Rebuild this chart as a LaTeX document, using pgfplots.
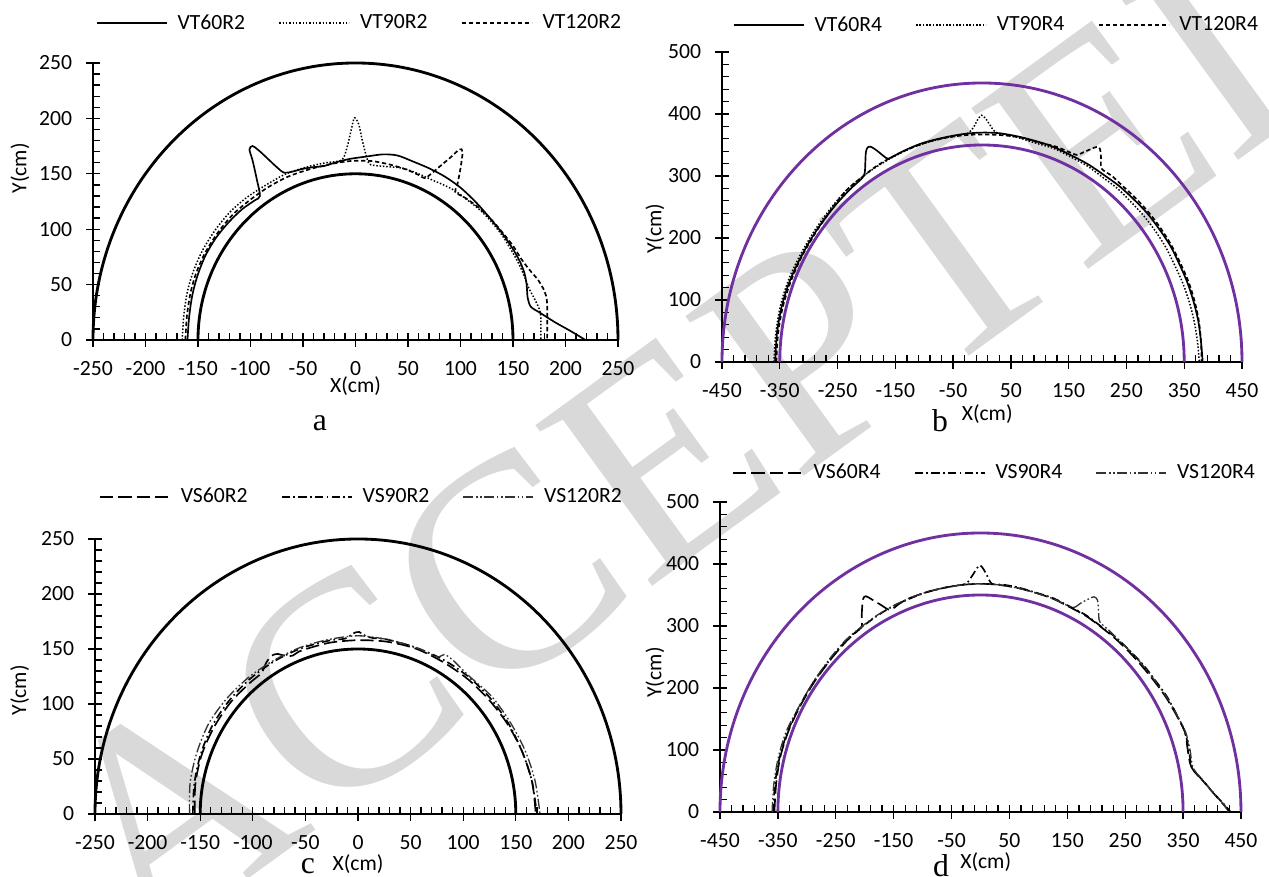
\documentclass[border=0pt]{standalone}
\usepackage{pgfplots}
\pgfplotsset{compat=1.18}
\usepackage{fontspec}
\setmainfont{Carlito}
\newfontfamily\tnr{Liberation Serif}
\definecolor{wm}{RGB}{217,217,217}
\definecolor{vio}{RGB}{112,48,160}
\newcommand{\tf}{\fontsize{13}{15}\selectfont}
\pgfplotsset{
  base/.style={
    scale only axis, clip=false, disabledatascaling,
    anchor=south west,
    axis lines=left, axis line style={line width=1pt,-},
    tick align=inside, major tick length=8pt, minor tick length=4pt,
    tick style={line width=0.8pt, black},
    major x tick style={yshift=-4pt},
    major y tick style={xshift=-4pt},
    minor tick num=4,
    tick label style={font=\tf},
    xticklabel style={anchor=center, yshift=-17pt},
    yticklabel style={anchor=east, xshift=-9pt},
    xlabel={X(cm)}, ylabel={Y(cm)},
    label style={font=\tf},
    xlabel style={anchor=center},
    ylabel style={anchor=center},
    legend style={draw=none, fill=none, legend columns=3, font=\tf, anchor=center,
      /tikz/every odd column/.append style={column sep=4pt},
      /tikz/every even column/.append style={column sep=18pt}},
    legend image code/.code={\draw[#1] (0pt,0pt) -- (42pt,0pt);},
    legend cell align=left,
  },
  s60/.style={black, line width=1pt, smooth, tension=0.5},
  s90/.style={black, line width=0.9pt, dash pattern=on 0.9pt off 1.1pt, smooth, tension=0.5},
  s120/.style={black, line width=1pt, dash pattern=on 2.6pt off 1.6pt, smooth, tension=0.5},
  v60/.style={black, line width=1pt, dash pattern=on 8pt off 3pt, smooth, tension=0.5},
  v90/.style={black, line width=1pt, dash pattern=on 5pt off 2pt on 1pt off 2pt, smooth, tension=0.5},
  v120/.style={black!80, line width=0.8pt, dash pattern=on 6pt off 1.5pt on 1pt off 1.5pt on 1pt off 1.5pt, smooth, tension=0.5},
}
\begin{document}
\begin{tikzpicture}
\path[use as bounding box] (0,0) rectangle (761.4pt,526.2pt);
\node[rotate=36, text=wm, font=\tnr\fontsize{182}{182}\selectfont] at (430pt,276pt) {ACCEPTED};

% ---------------- panel a ----------------
\begin{axis}[base, at={(55.8pt,322.2pt)}, width=315pt, height=166.2pt,
  xmin=-250, xmax=250, ymin=0, ymax=250,
  xtick={-250,-200,...,250}, xticklabels={-250,-200,-150,-100,-50,0,50,100,150,200,250},
  ytick={0,50,...,250}, yticklabels={0,50,100,150,200,250},
  xlabel style={at={(axis description cs:0.5,0)}, yshift=-27.6pt},
  ylabel style={at={(axis description cs:-0.139,0.62)}},
  legend style={at={(0.509,1.144)}}]
\draw[black, line width=1.7pt] (axis cs:250,0) arc[start angle=0, end angle=180, radius=250];
\draw[black, line width=1.7pt] (axis cs:150,0) arc[start angle=0, end angle=180, radius=150];
\addplot[s60] coordinates {(-160,0) (-158.5,20) (-155.5,40) (-150.5,58) (-143,76) (-133,92) (-121,106) (-108,118) (-96,126) (-91,130) (-94,145) (-98,162) (-101,172) (-98,175) (-92,171) (-84,164) (-75,156) (-68,151) (-60,152) (-50,154.5) (-40,156) (-30,157) (-18,160.5) (-5,163.5) (10,165.5) (26,167.5) (40,166.5) (55,161) (70,155) (85,147.5) (100,137.5) (115,124) (128,110) (140,96) (150,82) (157,70) (161,60) (163,50) (164,38) (167,30) (175,25) (190,16) (205,8) (219,0)};
\addlegendentry{VT60R2}
\addplot[s90] coordinates {(-165,0) (-163.5,22) (-160,44) (-154,63) (-145,82) (-133,100) (-119,116) (-103,129) (-85,140) (-66,150) (-45,156.5) (-28,160) (-13,162.5) (-8,174) (-4,190) (-1,200.5) (3,195) (6,182) (10,167) (13,159) (18,157.5) (30,156.5) (45,155) (60,150) (74,144) (85,139.5) (95,134.5) (107,126) (119,117) (130,106) (140,94) (149,80) (156,68) (161,57) (165,47) (170,38) (175,28) (176.5,20) (176.5,0)};
\addlegendentry{VT90R2}
\addplot[s120] coordinates {(-162,0) (-160.5,22) (-157,43) (-151.5,61) (-143,79) (-131,97) (-117,113) (-101,126) (-83,138) (-64,147.5) (-44,154) (-25,158.5) (-5,161.5) (15,161.5) (32,158.5) (48,154) (60,149) (66,146) (72,150) (82,158) (92,166) (99,172) (102,170) (100,155) (97,140) (95,133.5) (105,128) (118,119) (130,108) (140,97) (150,85) (158,73) (166,63) (174,54) (180,44) (182.5,33) (182.5,0)};
\addlegendentry{VT120R2}
\end{axis}

% ---------------- panel b ----------------
\begin{axis}[base, at={(433.2pt,309pt)}, width=312pt, height=186pt,
  xmin=-450, xmax=450, ymin=0, ymax=500,
  xtick={-450,-350,...,450}, xticklabels={-450,-350,-250,-150,-50,50,150,250,350,450},
  ytick={0,100,...,500}, yticklabels={0,100,200,300,400,500},
  xlabel style={at={(axis description cs:0.51,0)}, yshift=-31pt},
  ylabel style={at={(axis description cs:-0.129,0.43)}},
  legend style={at={(0.529,1.087)}}]
\draw[vio, line width=1.7pt] (axis cs:450,0) arc[start angle=0, end angle=180, radius=450];
\draw[vio, line width=1.7pt] (axis cs:350,0) arc[start angle=0, end angle=180, radius=350];
\addplot[s60] coordinates {(-358,0) (-355,45) (-347,88) (-333,130) (-313,170) (-288,210) (-258,248) (-230,277) (-208,296) (-203,305) (-202,320) (-201,338) (-198,346) (-192,347) (-182,341) (-170,332) (-162,328) (-145,336) (-125,345) (-100,354) (-64,362.4) (-30,368) (0,370) (30,369) (64,363.4) (100,354.5) (126,346) (155,333) (184,318.7) (212,301) (238,283.4) (263,262) (286,239.8) (307,214) (325.6,188) (341,159) (355,129.3) (366,98) (374.3,66.1) (379,33) (382,0)};
\addlegendentry{VT60R4}
\addplot[s90] coordinates {(-360,0) (-357,45) (-349,90) (-335,132) (-315,172) (-289,213) (-260,250) (-233.4,278.1) (-205,300) (-182,315.2) (-155,330) (-125.2,344) (-95,354) (-63.9,361.5) (-40,366) (-24,369) (-15,378) (-8,390) (-1,398) (6,393) (14,382) (22.5,371.5) (40,366.5) (63.9,361.5) (95,352.5) (125.2,344) (155,330) (182.5,316) (210,297) (234.7,279.6) (258,258) (280.4,235.3) (301,210) (318.7,184) (334,155) (347.8,126.5) (359,96) (367.4,64.9) (373,32) (376,0)};
\addlegendentry{VT90R4}
\addplot[s120] coordinates {(-356,0) (-353,45) (-345,88) (-331,130) (-312,170) (-287,210) (-258,250) (-233.4,278.1) (-208,298) (-182.5,316.1) (-155,331) (-125.2,344) (-95,354.5) (-63.9,361.4) (-30,365.8) (0,367) (32,366) (64,362.5) (96,354.5) (126.5,347.8) (150,339) (163.8,334) (175,338) (190,344) (199,347) (204,344) (206,330) (207,312) (225,300) (240.5,286.5) (265,265) (288,241.8) (309,216) (327.3,189) (343,160) (357.2,130) (368,98) (375.3,66.3) (379,33) (380,0)};
\addlegendentry{VT120R4}
\end{axis}

% ---------------- panel c ----------------
\begin{axis}[base, at={(57pt,37.8pt)}, width=315.6pt, height=165pt,
  xmin=-250, xmax=250, ymin=0, ymax=250,
  xtick={-250,-200,...,250}, xticklabels={-250,-200,-150,-100,-50,0,50,100,150,200,250},
  ytick={0,50,...,250}, yticklabels={0,50,100,150,200,250},
  xlabel style={at={(axis description cs:0.5,0)}, yshift=-30pt},
  ylabel style={at={(axis description cs:-0.143,0.45)}},
  legend style={at={(0.508,1.153)}}]
\draw[black, line width=1.7pt] (axis cs:250,0) arc[start angle=0, end angle=180, radius=250];
\draw[black, line width=1.7pt] (axis cs:150,0) arc[start angle=0, end angle=180, radius=150];
\addplot[v60] coordinates {(-155,0) (-154.6,27.3) (-148.5,54) (-136.8,79) (-121,101.6) (-103,119) (-92,128) (-87,138) (-82,144) (-76,145.5) (-69,143.5) (-62,144) (-54,148.5) (-27.5,155.6) (0,158) (27.7,156.6) (54.7,150.4) (80,138.6) (103.5,123.3) (124.1,104.2) (142,82) (156,56.8) (165.5,29.2) (169,0)};
\addlegendentry{VS60R2}
\addplot[v90] coordinates {(-157,0) (-155.6,27.5) (-149.5,54.4) (-138.6,80) (-122.6,102.9) (-102.9,122.6) (-80,138.6) (-54.7,150.4) (-27.8,157.6) (-12,159.5) (-5,164) (1,165.5) (7,162) (14,160) (28,158.6) (55,151.3) (81,140.3) (104.8,124.9) (125.6,105.4) (142.9,82.5) (156,56.8) (165.5,29.2) (170,0)};
\addlegendentry{VS90R2}
\addplot[v120] coordinates {(-160,0) (-159.6,28.2) (-153.2,55.7) (-142,82) (-124.9,104.8) (-104.1,124.1) (-80.5,139.4) (-55.1,151.3) (-28,158.6) (0,162) (28,158.6) (55,151.3) (75,143) (82,145) (90,140) (105.4,125.6) (127.2,106.7) (144.6,83.5) (158.8,57.8) (168.4,29.7) (173,0)};
\addlegendentry{VS120R2}
\end{axis}

% ---------------- panel d ----------------
\begin{axis}[base, at={(432pt,39pt)}, width=312.6pt, height=186pt,
  xmin=-450, xmax=450, ymin=0, ymax=500,
  xtick={-450,-350,...,450}, xticklabels={-450,-350,-250,-150,-50,50,150,250,350,450},
  ytick={0,100,...,500}, yticklabels={0,100,200,300,400,500},
  xlabel style={at={(axis description cs:0.51,0)}, yshift=-30pt},
  ylabel style={at={(axis description cs:-0.125,0.45)}},
  legend style={at={(0.528,1.094)}}]
\draw[vio, line width=1.7pt] (axis cs:450,0) arc[start angle=0, end angle=180, radius=450];
\draw[vio, line width=1.7pt] (axis cs:350,0) arc[start angle=0, end angle=180, radius=350];
\addplot[v60] coordinates {(-356,0) (-353,45) (-346,88) (-332,130) (-312,170) (-287,210) (-258,247) (-231.4,275.8) (-210,294) (-205,300) (-205,320) (-203,343) (-198,348) (-188,343) (-172,334) (-156,326) (-140,336) (-125,344) (-95,354) (-63.7,361.4) (-30,366.5) (0,368) (30,366.5) (63.7,361.4) (95,353.5) (125.2,344) (155,330) (182.5,316.1) (210,297) (234,278.8) (258,257) (279.6,234.6) (301,210) (320.4,185) (338,157) (353.3,128.6) (358,100) (364,73) (380,55) (400,33) (420,12) (430,0)};
\addlegendentry{VS60R4}
\addplot[v90] coordinates {(-358,0) (-355,45) (-347,88) (-333,130) (-313,170) (-288,210) (-258,248) (-232,276.5) (-208,296) (-181.5,314.4) (-155,330) (-124.8,343) (-95,354) (-63.7,361.4) (-40,365.5) (-25,368) (-15,380) (-7,392) (-1,398) (5,392) (12,380) (20,368) (40,366.5) (64,362.4) (95,354) (125.5,344.9) (155,331) (183,317) (210,298) (235.3,280.4) (260,258) (281.9,236.5) (303,211) (322.2,186) (339,157) (353.3,128.6) (360,100) (366,70) (385,50) (405,28) (425,8) (432,0)};
\addlegendentry{VS90R4}
\addplot[v120] coordinates {(-360,0) (-357,45) (-349,89) (-335,131) (-313,171) (-288,211) (-259,249) (-232.7,277.3) (-208,297) (-182,315.2) (-155,330.5) (-125.2,344) (-95,354) (-63.7,361.4) (-30,366.5) (0,368) (30,366.5) (63.7,361.4) (95,353.5) (125.2,344) (150,333) (162,330) (175,338) (188,344) (196,347) (202,342) (204,325) (206,307) (222,293) (235.3,280.4) (260,258) (281.1,235.9) (302,211) (321.3,185.5) (339,157) (354.3,128.9) (362,100) (367,72) (383,52) (403,30) (422,10) (428,0)};
\addlegendentry{VS120R4}
\end{axis}

\node[anchor=base, font=\tnr\fontsize{19}{22}\selectfont] at (192pt,267.6pt) {a};
\node[anchor=base, font=\tnr\fontsize{19}{22}\selectfont] at (564pt,267pt) {b};
\node[anchor=base, font=\tnr\fontsize{19}{22}\selectfont] at (184.8pt,1.8pt) {c};
\node[anchor=base, font=\tnr\fontsize{19}{22}\selectfont] at (564.6pt,0.5pt) {d};
\end{tikzpicture}
\end{document}
